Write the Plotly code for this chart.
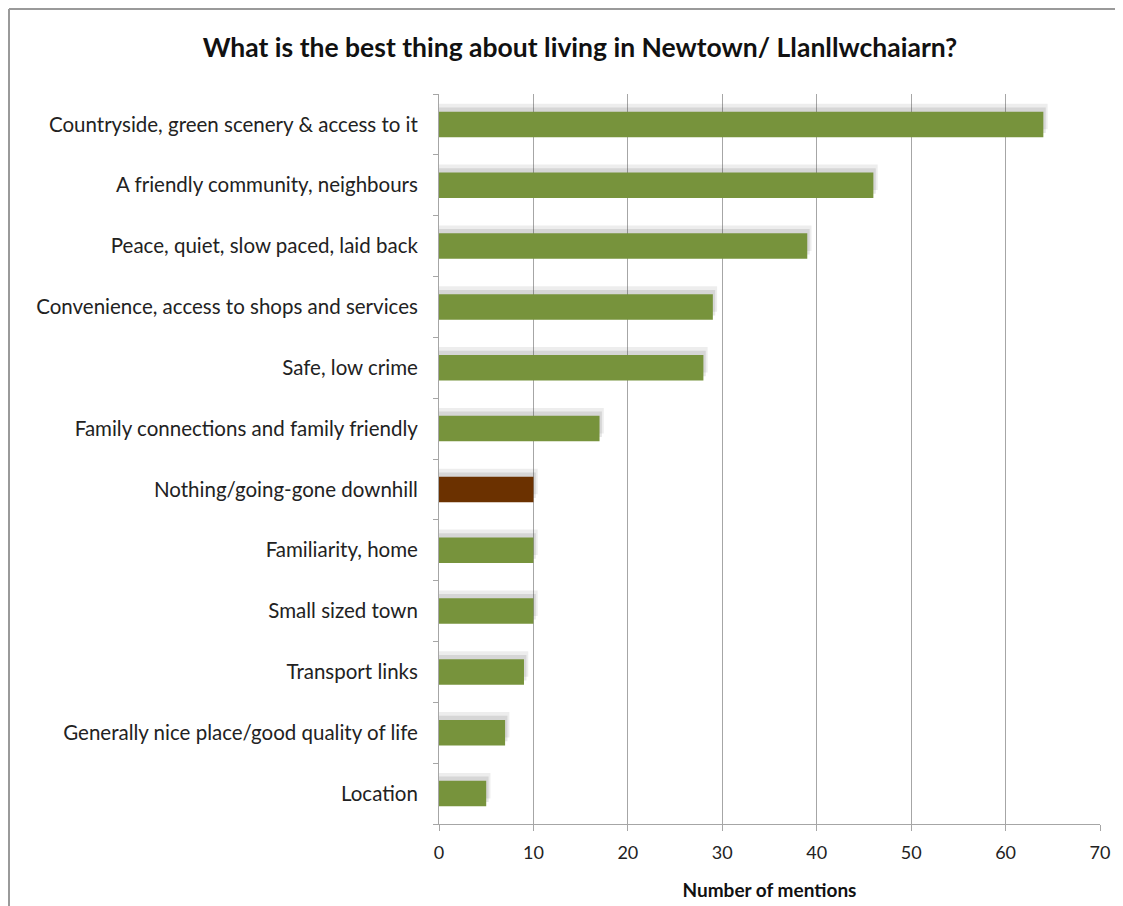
import plotly.graph_objects as go

categories = [
    "Countryside, green scenery & access to it",
    "A friendly community, neighbours",
    "Peace, quiet, slow paced, laid back",
    "Convenience, access to shops and services",
    "Safe, low crime",
    "Family connections and family friendly",
    "Nothing/going-gone downhill",
    "Familiarity, home",
    "Small sized town",
    "Transport links",
    "Generally nice place/good quality of life",
    "Location",
]
values = [64, 46, 39, 29, 28, 17, 10, 10, 10, 9, 7, 5]
colors = ["#77933C"] * 6 + ["#6B3100"] + ["#77933C"] * 5
x_ticks = [0, 10, 20, 30, 40, 50, 60, 70]

W, H = 1123, 906
off = 7  # page offset
ml, mr, mt, mb = 438 - off, 24 + off, 93 - off, 83 + off
BW = 0.42

fig = go.Figure()
# soft shadow behind bars (two translucent layers)
for shift, ext, alpha in [(0.13, 0.45, 0.10), (0.07, 0.25, 0.14)]:
    fig.add_trace(go.Bar(
        y=categories, x=[v + ext for v in values], orientation="h",
        marker=dict(color=f"rgba(80,80,80,{alpha})", line=dict(width=0)),
        width=BW, offset=-BW / 2 + shift, hoverinfo="skip",
    ))
fig.add_trace(go.Bar(
    y=categories, x=values, orientation="h",
    marker=dict(color=colors, line=dict(width=0)),
    width=BW, offset=-BW / 2,
    hoverinfo="x+y",
))

FONT = "Lato, Open Sans, sans-serif"
fig.update_layout(
    width=W, height=H,
    margin=dict(l=ml, r=mr, t=mt, b=mb, autoexpand=False),
    paper_bgcolor="white", plot_bgcolor="white",
    font=dict(family=FONT, color="#222222", size=16),
    title=dict(
        text="<b>What is the best thing about living in Newtown/ Llanllwchaiarn?</b>",
        x=(579 - off) / W, xanchor="center",
        y=1 - (47 - off) / H, yanchor="middle",
        font=dict(size=26.5, color="#111111", family=FONT),
    ),
    showlegend=False,
    barmode="overlay",
)
fig.update_xaxes(
    range=[0, 70], tickvals=x_ticks, showgrid=True, gridcolor="#A6A6A6", gridwidth=1,
    zeroline=False, showline=True, linecolor="#A6A6A6", ticks="outside", ticklen=6,
    tickcolor="#A6A6A6", tickfont=dict(size=18, color="#222222"), ticklabelstandoff=6,
    title=dict(text="<b>Number of mentions</b>", font=dict(size=19, color="#111111"), standoff=22),
)
fig.update_yaxes(
    categoryorder="array", categoryarray=categories[::-1],
    showline=True, linecolor="#A6A6A6", ticks="outside", ticklen=5, tickcolor="#A6A6A6",
    tickson="boundaries", ticklabelstandoff=16,
    tickfont=dict(size=20.5, color="#222222"),
)

pw = W - ml - mr
ph = H - mt - mb
def fx(p): return (p - ml) / pw          # figure pixel -> paper
def fy(p): return 1 - (p - mt) / ph
right = 1117 - off
for (x0, y0, x1, y1) in [(1, 1, right, 1), (1, 1, 1, H), (right, 1, right, H)]:
    fig.add_shape(type="line", xref="paper", yref="paper",
                  x0=fx(x0), y0=fy(y0), x1=fx(x1), y1=fy(y1),
                  line=dict(color="#9A9A9A", width=2))

fig.write_html("out.html")
